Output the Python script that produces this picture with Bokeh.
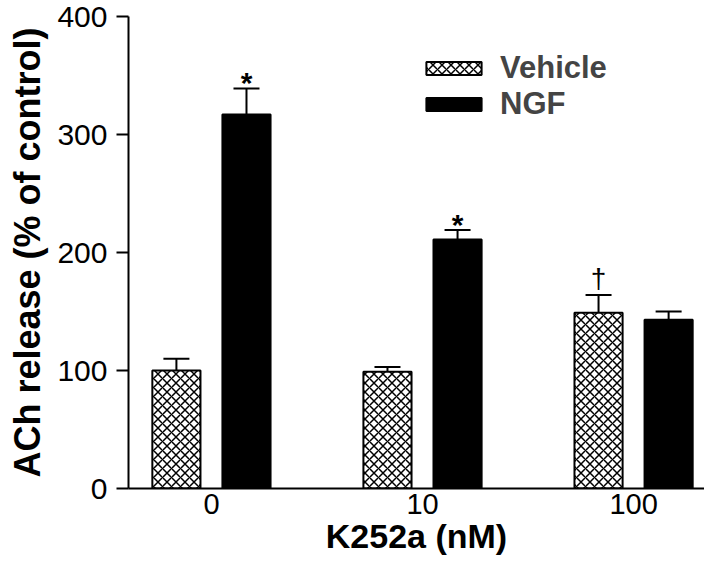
from bokeh.plotting import figure
from bokeh.models import (Range1d, FixedTicker, Whisker, TeeHead, ColumnDataSource,
                          Legend, LegendItem)
from bokeh.core.properties import value
from bokeh.embed import file_html
from bokeh.resources import INLINE

# ---- data ----
doses = ["0", "10", "100"]
vehicle_mean = [100, 99, 149]
vehicle_err_top = [110, 103, 164]
ngf_mean = [317, 211, 143]
ngf_err_top = [339, 219, 150]
y_ticks = [0, 100, 200, 300, 400]
sig_group = [0, 1, 2]
sig_series = ["NGF", "NGF", "Vehicle"]
sig_symbol = ["*", "*", "\u2020"]

FONT = "Liberation Sans"
group_x = list(range(len(doses)))
dodge = 0.166
bar_w = 0.228
veh_x = [g - dodge for g in group_x]
ngf_x = [g + dodge for g in group_x]

p = figure(width=704, height=562, output_backend="svg", toolbar_location=None,
           x_range=Range1d(-0.393, 2.336), y_range=Range1d(0, 400),
           min_border_left=128, min_border_right=0, min_border_top=16,
           min_border_bottom=74)
p.outline_line_color = None
p.xgrid.visible = False
p.ygrid.visible = False
p.background_fill_color = "white"

veh_src = ColumnDataSource(dict(x=veh_x, top=vehicle_mean, up=vehicle_err_top))
ngf_src = ColumnDataSource(dict(x=ngf_x, top=ngf_mean, up=ngf_err_top))

r_veh = p.vbar(x="x", top="top", width=bar_w, bottom=0, source=veh_src,
               fill_color="white", line_color="black", line_width=2,
               hatch_pattern="diagonal_cross", hatch_color="black",
               hatch_scale=9, hatch_weight=1.5)
r_ngf = p.vbar(x="x", top="top", width=bar_w, bottom=0, source=ngf_src,
               fill_color="black", line_color="black", line_width=2)

for src in (veh_src, ngf_src):
    w = Whisker(source=src, base="x", upper="up", lower="top", dimension="height",
                line_width=2, line_color="black",
                upper_head=TeeHead(size=26, line_width=2, line_color="black"),
                lower_head=None)
    p.add_layout(w)

# significance marks
star_x, star_y, dag_x, dag_y, star_t, dag_t = [], [], [], [], [], []
for g, s, sym in zip(sig_group, sig_series, sig_symbol):
    if s == "NGF":
        xx, yy = ngf_x[g], ngf_err_top[g]
    else:
        xx, yy = veh_x[g], vehicle_err_top[g]
    if sym == "*":
        star_x.append(xx); star_y.append(yy); star_t.append(sym)
    else:
        dag_x.append(xx); dag_y.append(yy); dag_t.append(sym)
p.text(x=star_x, y=star_y, text=star_t, text_font=value(FONT), text_font_style="bold",
       text_font_size="30px", text_align="center", text_baseline="middle",
       y_offset=-6, text_color="black")
p.text(x=dag_x, y=dag_y, text=dag_t, text_font=value(FONT), text_font_style="normal",
       text_font_size="28px", text_align="center", text_baseline="middle",
       y_offset=-16, text_color="black")

# axes
xa = p.xaxis[0]
xa.ticker = FixedTicker(ticks=group_x)
xa.major_label_overrides = {g: d for g, d in zip(group_x, doses)}
xa.major_tick_line_color = None
xa.minor_tick_line_color = None
xa.major_tick_out = 0
xa.major_tick_in = 0
xa.axis_line_width = 2
xa.axis_line_color = "black"
xa.major_label_text_font = FONT
xa.major_label_text_font_size = "29px"
xa.major_label_text_color = "black"
xa.major_label_standoff = 5
xa.axis_label = "K252a (nM)"
xa.axis_label_text_font = FONT
xa.axis_label_text_font_size = "34px"
xa.axis_label_text_font_style = "bold"
xa.axis_label_text_color = "black"
xa.axis_label_standoff = 0

ya = p.yaxis[0]
ya.ticker = FixedTicker(ticks=y_ticks)
ya.minor_tick_line_color = None
ya.major_tick_in = 0
ya.major_tick_out = 12
ya.major_tick_line_width = 2
ya.axis_line_width = 2
ya.axis_line_color = "black"
ya.major_label_text_font = FONT
ya.major_label_text_font_size = "30px"
ya.major_label_text_color = "black"
ya.major_label_standoff = 9
ya.axis_label = "ACh release (% of control)"
ya.axis_label_text_font = FONT
ya.axis_label_text_font_size = "36px"
ya.axis_label_text_font_style = "bold"
ya.axis_label_text_color = "black"
ya.axis_label_standoff = 6

legend = Legend(items=[LegendItem(label="Vehicle", renderers=[r_veh]),
                       LegendItem(label="NGF", renderers=[r_ngf])],
                location=(291, 366), glyph_width=69, glyph_height=16,
                label_text_font=FONT, label_text_font_size="31px",
                label_text_font_style="bold", label_standoff=12,
                label_height=32, spacing=0, padding=0, margin=0,
                border_line_color=None, background_fill_alpha=0)
p.add_layout(legend)

open("out.html", "w").write(file_html(p, INLINE))
